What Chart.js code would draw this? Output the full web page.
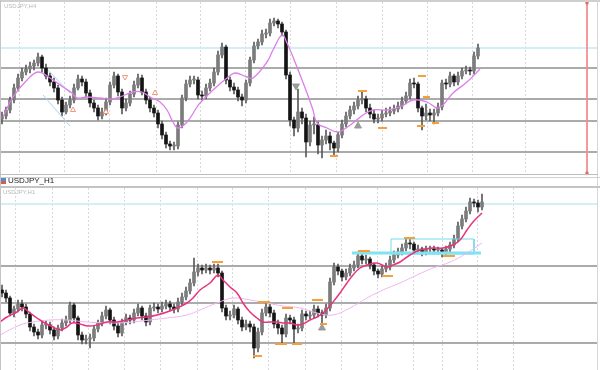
<!DOCTYPE html>
<html><head><meta charset="utf-8">
<script src="https://cdn.jsdelivr.net/npm/chart.js@4.4.1/dist/chart.umd.min.js"></script>
<style>
html,body{margin:0;padding:0;background:#fff;width:600px;height:370px;overflow:hidden;font-family:"Liberation Sans",Arial,sans-serif}
.abs{position:absolute}
canvas{position:absolute;display:block}
</style></head>
<body>
<canvas id="top" width="597" height="172" style="left:0;top:2px;width:597px;height:172px"></canvas>
<canvas id="bot" width="597" height="182" style="left:0;top:188px;width:597px;height:182px"></canvas>
<div class="abs" style="left:0;top:0;width:600px;height:2px;background:#cfcfcf"></div>
<div class="abs" style="left:0;top:0;width:1px;height:370px;background:#c4c4c4"></div>
<div class="abs" style="left:597px;top:0;width:1px;height:370px;background:#d6d6d6"></div>
<div class="abs" style="left:0;top:174px;width:598px;height:1px;background:#bdbdbd"></div>
<div class="abs" style="left:0;top:177px;width:600px;height:1px;background:#d0d0d0"></div>
<div class="abs" style="left:1px;top:178px;width:5px;height:3px;background:#4a8fd8"></div>
<div class="abs" style="left:1px;top:181px;width:5px;height:3px;background:#e05a4a"></div>
<div class="abs" style="left:8px;top:176px;font-size:8px;line-height:10px;color:#1a1a1a">USDJPY_H1</div>
<div class="abs" style="left:0;top:186px;width:600px;height:2px;background:#c4c4c4"></div>
<div class="abs" style="left:4px;top:3px;font-size:6px;line-height:7px;color:#b8b8b8">USDJPY,H4</div>
<div class="abs" style="left:3px;top:189px;font-size:6px;line-height:7px;color:#b8b8b8">USDJPY,H1</div>
<script>
// ---------- TOP PANEL (values in panel units, 0 = panel floor) ----------
const topOpen = [55,58,64,74,86,96,102,105,108,111, 117,106,98,92,86,74,62,69,74,86, 95,92,81,71,66,58,62,72,89,98, 82,66,71,80,89,96,82,74,66,61, 50,39,30,28,28,49,76,90,94,94, 79,78,86,91,102,119,127,94,87,84, 77,74,91,114,128,132,140,141,151,153, 150,142,99,54,46,62,56,32,49,49, 29,34,38,31,26,39,50,58,64,68, 74,75,66,60,55,56,60,61,63,65, 68,73,78,91,90,66,58,61,59,61, 67,91,90,98,92,98,103,104,103,118];
const topClose = [58,64,74,86,96,102,105,108,111,117, 106,98,92,86,74,62,69,74,86,95, 92,81,71,66,58,62,72,89,98,82, 66,71,80,89,96,82,74,66,61,50, 39,30,28,28,49,76,90,94,94,79, 78,86,91,102,119,127,94,87,84,77, 74,91,114,128,132,140,141,151,153,150, 142,99,54,46,62,56,32,49,49,29, 34,38,31,26,39,50,58,64,68,74, 75,66,60,55,56,60,61,63,65,68, 73,78,91,90,66,58,61,59,61,67, 91,90,98,92,98,103,104,103,118,126];
const topHigh = [62,67,77,90,100,106,109,112,114,121, 119,110,101,96,89,77,72,78,90,99, 98,95,84,74,69,66,76,92,102,100, 85,75,83,93,100,99,85,77,69,64, 53,42,33,32,52,79,94,98,98,97, 83,90,95,106,123,131,129,97,91,87, 80,94,117,132,135,144,145,155,156,155, 152,144,102,57,85,66,60,53,57,52, 38,44,42,33,42,54,62,68,72,78, 82,78,70,64,60,64,66,67,69,72, 77,82,95,96,92,68,70,65,65,71, 94,95,102,100,102,106,108,107,122,130];
const topLow = [50,55,61,71,83,93,99,101,104,108, 102,95,88,82,70,58,60,66,71,84, 88,77,67,62,54,55,59,69,86,78, 60,63,68,77,86,79,70,62,57,46, 35,26,24,24,25,46,73,87,90,75, 74,75,83,88,99,116,90,83,80,73, 68,71,88,111,125,129,136,138,148,146, 138,95,48,38,42,50,17,28,40,20, 16,30,24,18,22,36,47,55,60,65, 70,62,56,51,51,53,57,58,60,62, 65,70,75,86,62,44,54,53,50,58, 64,85,87,88,89,95,100,99,100,115];
const topMaX = [0.25,2.75,6.25,9,12,15.25,17.5,18.75,21.25,24.5,27.75,29.5,32.75,35,37,39.5,41.25,42.75,44,46.25,48.75,49.5,52.75,56.25,58.25,61.25,62.75,66.25,67.75,70,71.25,73.75,76.25,77.75,78.75,81.25,83.75,85.25,87.75,90.25,92.75,96.25,99.5,102.75,106.25,108.75,110.25,112.75,116.25,119.5];
const topMaV = [57,77,94,102,96,87,81,76,77,76,75,77,82,82,77,72,64,52,46,52,67,71,84,96,101,97,96,112,124,139,131,107,81,64,51,46,42,44,51,59,64,64,67,74,72,66,69,81,92,105];
const topGridX = [4.25,15.5,26.75,38.5,49.5,60.75,72,83.5,95,106.25,117.5,130.75];
const topLevels = [126,106,75,53,22];
const topCyanLevel = 126;
const topOrX1 = [89,94,82,104,105.25,103.75,107.5];
const topOrX2 = [91.25,96.25,84,106,107,105.75,109.25];
const topOrV  = [83,46,18,98,77,48,51];
const topChX1 = [11.5,10.25], topChX2 = [17,17], topChV1 = [104,79], topChV2 = [81,48];
const topTriDown = [[73.5,88]], topTriUp = [[89,48]];
const topArrDown = [[30.75,97]], topArrUp = [[17.75,64],[26,62],[38.25,81]];
const redLineX = 146.25, redLineV = [171,1];

// ---------- BOTTOM PANEL ----------
const botOpen = [80,77,72,57,61,66,63,56,43,38, 35,45,45,40,34,42,47,50,65,52, 35,30,31,32,41,47,54,60,50,44, 37,48,52,50,57,62,54,48,62,63, 61,64,66,63,61,68,73,79,87,98, 102,100,102,100,102,97,62,54,55,61, 50,43,46,43,22,38,57,63,57,46, 42,36,52,50,41,42,56,54,55,61, 57,55,62,88,103,99,93,97,102,105, 114,110,111,105,99,96,101,103,110,115, 118,122,127,126,120,121,118,121,121,120, 120,118,121,125,131,144,151,159,168,167,163];
const botClose = [77,72,57,61,66,63,56,43,38,35, 45,45,40,34,42,47,50,65,52,35, 30,31,32,41,47,54,60,50,44,37, 48,52,50,57,62,54,48,62,63,61, 64,66,63,61,68,73,79,87,98,102, 100,102,100,102,97,62,54,55,61,50, 43,46,43,22,38,57,63,57,46,42, 36,52,50,41,42,56,54,55,61,57, 55,62,88,103,99,93,97,102,105,114, 110,111,105,99,96,101,103,110,115,118, 122,127,126,120,121,118,121,121,120,120, 118,121,125,131,144,151,159,168,167,163,168];
const botHigh = [85,80,74,64,70,70,66,58,46,41, 49,49,48,43,45,51,54,68,67,54, 38,35,36,44,50,58,64,62,53,47, 51,56,55,61,66,64,57,65,67,66, 68,70,69,66,72,77,83,91,112,106, 105,106,105,106,106,99,65,59,65,63, 53,50,49,46,42,61,67,66,60,50, 45,56,55,53,46,60,59,59,65,64, 60,66,92,107,106,101,101,106,109,118, 117,115,113,107,101,104,107,114,119,122, 126,132,132,128,125,123,124,124,124,123, 122,124,128,135,148,155,163,172,171,170,176];
const botLow = [73,68,54,53,58,59,52,39,34,31, 32,41,36,30,31,39,44,47,48,30, 26,26,22,29,38,44,51,46,40,33, 34,45,46,47,54,50,44,45,59,57, 58,61,59,57,58,65,70,76,84,94, 96,97,96,97,93,58,50,50,52,46, 39,40,38,12,18,35,54,53,42,36, 27,33,46,26,37,39,50,51,52,53, 47,52,59,85,95,89,90,94,99,102, 106,106,101,95,92,93,98,100,107,112, 115,119,121,116,116,114,115,117,116,116, 113,115,118,122,128,141,148,156,163,158,160];
const botMa1X = [-0.5,1.25,3.75,5.25,7,8.75,10.25,12.75,14.5,16.25,17.5,19.5,21.5,23.75,26.25,28.75,31.25,33.75,36.25,38.75,41.25,43.75,46.25,47.75,49.5,52,54,55.25,57,58.75,60.25,62,63.75,65.25,67,68.75,70.25,72,73.75,75.25,77,78.75,80.25,81.5,82.75,84.5,86.25,87.75,89.5,91.25,93.75,96.25,97.75,99.5,102,104.5,107.75,110.25,112.75,114.5,116.25,117.75,120];
const botMa1V = [48,53,58,62,57,52,48,43,40,43,47,46,44,45,48,48,50,52,53,55,58,62,67,72,80,87,95,90,83,77,67,58,52,48,48,48,47,47,45,46,50,53,57,62,68,77,87,95,102,105,107,103,105,108,115,120,122,122,125,130,140,148,157];
const botMa2X = [-0.5,4.5,7.75,12,16.25,21.25,27.75,32.75,37,41.25,46.25,49.5,53.75,57.75,62,66.25,70.25,74.5,78.75,82.75,87,91.25,95.25,99.5,103.75,107.75,112,116.25,120];
const botMa2V = [35,45,48,50,50,48,47,48,50,52,55,60,67,72,70,67,64,62,57,55,62,72,80,87,95,102,108,117,127];
const botGridX = [3.25,12.5,21.5,30.5,39.5,48.75,57.5,66.5,75.75,84.75,93.75,102.75,110,118.75,127.75];
const botLevels = [166,104,67,27];
const botCyanLevel = 166;
const botOrX1 = [52.5,64,70,77.5,62.75,68.25,72.5,79.5,89,95,100.5,110.25];
const botOrX2 = [55.25,67,72.75,80.25,65,71.25,75,81.25,92,97.75,103.25,113.25];
const botOrV  = [108,68,62,70,14,26,26,46,119,94,132,114];
const botBoxX = [97.25,118], botBoxV = [116,131];
const botBandX = [87.5,119.75], botBandV = 117;
const botTriUp = [[80,42]];

// ---------- helpers ----------
function segs(x1, x2, v1, v2) {
  const out = [];
  x1.forEach((x, i) => { out.push({x: x, y: v1[i]}, {x: x2[i], y: v2[i]}, {x: x2[i], y: null}); });
  return out;
}
function pts(xs, vs) { return xs.map((x, i) => ({x: x, y: vs[i]})); }
function candles(o, h, l, c, upCol, dnCol) {
  const idx = c.map((_, i) => i);
  return [
    {type:'bar', data: idx.map(i => ({x:i, y:[l[i], h[i]]})), backgroundColor:'#5a5a5a', barThickness:1, grouped:false, order:6},
    {type:'bar', data: idx.map(i => ({x:i, y:[o[i], c[i]]})), backgroundColor: idx.map(i => c[i] >= o[i] ? upCol : dnCol), barThickness:3, grouped:false, minBarLength:1, order:5}
  ];
}
function tri(list, rot, bg, bd, r) {
  return {type:'scatter', data: list.map(p => ({x:p[0], y:p[1]})), pointStyle:'triangle', rotation:rot, pointRadius:r, pointBackgroundColor:bg, pointBorderColor:bd, pointBorderWidth:1, order:0};
}
function scales(yMax, gridX, levels, cyanLevel) {
  return {
    x: {type:'linear', min:-0.5, max:148.75, offset:false, ticks:{display:false}, border:{display:false, dash:[2,2]},
        grid:{color:'#d8d8d8', lineWidth:1, drawTicks:false, offset:false},
        afterFit: s => { s.height = 0; s.paddingLeft = 0; s.paddingRight = 0; },
        afterBuildTicks: s => { s.ticks = gridX.map(v => ({value:v})); }},
    y: {type:'linear', min:0, max:yMax, ticks:{display:false}, border:{display:false},
        grid:{drawTicks:false, color: c => (c.tick && c.tick.value === cyanLevel) ? '#d2eef6' : '#ababab', lineWidth:2},
        afterFit: s => { s.width = 0; s.paddingTop = 0; s.paddingBottom = 0; },
        afterBuildTicks: s => { s.ticks = levels.map(v => ({value:v})); }}
  };
}
const common = {responsive:false, animation:false, events:[], layout:{padding:0, autoPadding:false},
  plugins:{legend:{display:false}, tooltip:{enabled:false}}};

// ---------- top chart ----------
new Chart(document.getElementById('top'), {
  type:'bar',
  data:{datasets:[
    ...candles(topOpen, topHigh, topLow, topClose, '#7c7c7c', '#141414'),
    {type:'line', data: pts(topMaX, topMaV), borderColor:'#dc7ee8', borderWidth:1.3, pointRadius:0, tension:0.4, order:2},
    {type:'line', data: segs(topChX1, topChX2, topChV1, topChV2), borderColor:'#a9d4ee', borderWidth:1, pointRadius:0, order:3},
    {type:'line', data: segs(topOrX1, topOrX2, topOrV, topOrV), borderColor:'#f5a03a', borderWidth:2, pointRadius:0, order:1},
    tri(topTriDown, 180, '#9a9a9a', '#9a9a9a', 4),
    tri(topTriUp, 0, '#9a9a9a', '#9a9a9a', 4),
    tri(topArrDown, 180, '#ffffff', '#f09a7a', 3),
    tri(topArrUp, 0, '#ffffff', '#f09a7a', 3),
    {type:'line', data:[{x:redLineX, y:redLineV[0]}, {x:redLineX, y:redLineV[1]}], borderColor:'#f28c8c', borderWidth:1,
     pointRadius:1.5, pointStyle:'rect', pointBackgroundColor:'#e46a6a', pointBorderColor:'#e46a6a', order:0}
  ]},
  options:{...common, scales: scales(172, topGridX, topLevels, topCyanLevel)}
});

// ---------- bottom chart ----------
new Chart(document.getElementById('bot'), {
  type:'bar',
  data:{datasets:[
    ...candles(botOpen, botHigh, botLow, botClose, '#7c7c7c', '#141414'),
    {type:'line', data: pts(botMa2X, botMa2V), borderColor:'#f1b6f0', borderWidth:1, pointRadius:0, tension:0.4, order:3},
    {type:'line', data: pts(botMa1X, botMa1V), borderColor:'#e8337f', borderWidth:1.5, pointRadius:0, tension:0.4, order:2},
    {type:'line', data:[{x:botBandX[0], y:botBandV}, {x:botBandX[1], y:botBandV}], borderColor:'#7fe3f0', borderWidth:3, pointRadius:0, order:4},
    {type:'line', data:[{x:botBoxX[0],y:botBoxV[0]},{x:botBoxX[0],y:botBoxV[1]},{x:botBoxX[1],y:botBoxV[1]},{x:botBoxX[1],y:botBoxV[0]},{x:botBoxX[0],y:botBoxV[0]}],
     borderColor:'#72dcec', borderWidth:1, pointRadius:0, order:4},
    {type:'line', data: segs(botOrX1, botOrX2, botOrV, botOrV), borderColor:'#f5a03a', borderWidth:2, pointRadius:0, order:1},
    tri(botTriUp, 0, '#9a9a9a', '#9a9a9a', 4)
  ]},
  options:{...common, scales: scales(182, botGridX, botLevels, botCyanLevel)}
});
</script>
</body></html>
